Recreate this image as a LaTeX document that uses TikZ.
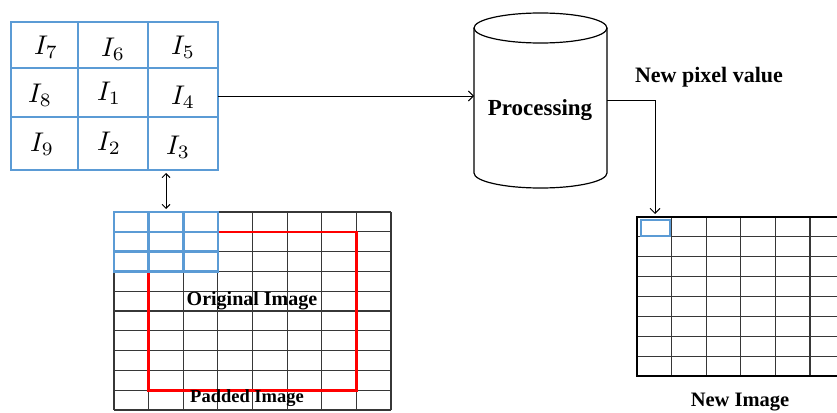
\documentclass[tikz,border=0pt]{standalone}
\usepackage{fontspec}
\setmainfont{Liberation Serif}
\usetikzlibrary{arrows.meta,calc}
\definecolor{kblue}{RGB}{91,155,213}
\definecolor{gridc}{RGB}{55,55,55}
\newcommand{\kl}[1]{\scalebox{2.7}{$I_{#1}$}}
\begin{document}
\begin{tikzpicture}[x=1pt,y=-1pt,
  kline/.style={draw=kblue,line width=2.6pt},
  gline/.style={draw=gridc,line width=1.1pt},
  conn/.style={draw=black,line width=0.9pt,-{Straight Barb[length=5pt,width=10pt]}},
  dconn/.style={draw=black,line width=0.9pt,{Straight Barb[length=4pt,width=8pt]}-{Straight Barb[length=4pt,width=8pt]}},
  lbl/.style={font=\bfseries\fontsize{20}{22}\selectfont, inner sep=0pt},
  ik/.style={inner sep=0pt},
  box/.style={draw=none, inner sep=0pt, outer sep=0pt}]
\useasboundingbox (0,0) rectangle (837,412);

% ---------- kernel ----------
\node[box, minimum width=207pt, minimum height=148pt] (kernel) at (114.5,96) {};
\draw[kline] (11,22) rectangle (218,170);
\draw[kline] (78,22) -- (78,170);
\draw[kline] (148,22) -- (148,170);
\draw[kline] (11,68) -- (218,68);
\draw[kline] (11,117) -- (218,117);
\node[ik] (i7) at (46,47) {\kl{7}};
\node[ik] (i6) at (113,49) {\kl{6}};
\node[ik] (i5) at (183,47) {\kl{5}};
\node[ik] (i8) at (40,95) {\kl{8}};
\node[ik] (i1) at (109,93) {\kl{1}};
\node[ik] (i4) at (183,97) {\kl{4}};
\node[ik] (i9) at (42,144) {\kl{9}};
\node[ik] (i2) at (109,143) {\kl{2}};
\node[ik] (i3) at (178,147) {\kl{3}};

% ---------- processing cylinder ----------
\node[box, minimum width=133pt, minimum height=175pt] (proc) at (540.5,100.5) {};
\draw[line width=1.2pt] (540.5,28) ellipse [x radius=66.5pt, y radius=15pt];
\draw[line width=1.2pt] (474,28) -- (474,173)
  arc[start angle=180,end angle=360,x radius=66.5pt,y radius=15pt] -- (607,28);
\node[lbl, font=\bfseries\fontsize{23}{25}\selectfont] (proctext) at (540,110) {Processing};
\node[lbl, font=\bfseries\fontsize{22}{24}\selectfont] (npv) at (709,77) {New pixel value};

% ---------- padded image ----------
\node[box, minimum width=277pt, minimum height=198pt] (padded) at (252.5,311) {};
\foreach \i in {0,...,8} \draw[gline] ({114+\i*34.625},212) -- ({114+\i*34.625},410);
\foreach \j in {0,...,10} \draw[gline] (114,{212+\j*19.8}) -- (391,{212+\j*19.8});
\draw[draw=red, line width=2.6pt] (148.625,231.8) rectangle (356.375,390.2);
\node[box, minimum width=104pt, minimum height=59.4pt] (win) at (166,241.7) {};
\fill[white] (114,212) rectangle (217.875,271.4);
\foreach \i in {1,2} \draw[kline] ({114+\i*34.625},212) -- ({114+\i*34.625},271.4);
\foreach \j in {1,2} \draw[kline] (114,{212+\j*19.8}) -- (217.875,{212+\j*19.8});
\draw[kline] (114,212) rectangle (217.875,271.4);
\node[lbl] (orig) at (252,301) {Original Image};
\node[lbl, font=\bfseries\fontsize{18.5}{20}\selectfont] (padlbl) at (247,398) {Padded Image};

% ---------- new image ----------
\node[box, minimum width=200pt, minimum height=159pt] (newimg) at (737,296.5) {};
\foreach \i in {0,...,5} \draw[gline] ({637+\i*34.6},217) -- ({637+\i*34.6},376);
\foreach \j in {0,...,8} \draw[gline] (637,{217+\j*19.875}) -- (837,{217+\j*19.875});
\draw[draw=black, line width=1.3pt] (837,217) -- (637,217) -- (637,376) -- (837,376);
\draw[kblue, line width=2pt] (640.5,219.8) rectangle (670,235.5);
\node[lbl, font=\bfseries\fontsize{20.5}{22}\selectfont] (newlbl) at (740,402) {New Image};

% ---------- connectors ----------
\coordinate (nin) at (655,214);
\draw[conn] (kernel.east) -- (kernel.east -| proc.west);
\draw[conn] (proc.east) -| (nin);
\draw[dconn, shorten <=3pt, shorten >=3pt] (kernel.south -| win.north) -- (win.north);
\end{tikzpicture}
\end{document}
